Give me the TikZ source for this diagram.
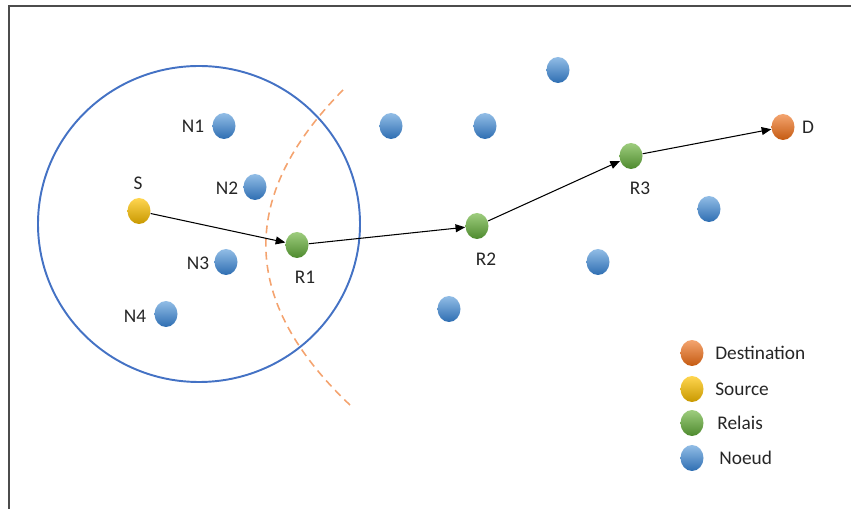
\documentclass[tikz,border=0pt]{standalone}
\usepackage{fontspec}
\setmainfont{Carlito}
\usetikzlibrary{arrows.meta,shapes.geometric}
\definecolor{nbluelt}{RGB}{146,189,230}
\definecolor{nbluedk}{RGB}{46,110,178}
\definecolor{rgreenlt}{RGB}{158,205,126}
\definecolor{rgreendk}{RGB}{78,138,46}
\definecolor{syellowlt}{RGB}{255,214,80}
\definecolor{syellowdk}{RGB}{200,152,0}
\definecolor{dorangelt}{RGB}{244,165,112}
\definecolor{dorangedk}{RGB}{197,90,17}
\definecolor{rangeblue}{RGB}{68,114,196}
\definecolor{zoneorange}{RGB}{244,163,111}
\definecolor{txtgray}{RGB}{38,38,38}

\begin{document}
\begin{tikzpicture}[x=0.02cm,y=-0.02cm,
  dot/.style={ellipse,minimum width=0.46cm,minimum height=0.52cm,inner sep=0pt},
  noeud/.style={dot,top color=nbluelt,bottom color=nbluedk},
  relais/.style={dot,top color=rgreenlt,bottom color=rgreendk},
  source/.style={dot,top color=syellowlt,bottom color=syellowdk},
  dest/.style={dot,top color=dorangelt,bottom color=dorangedk},
  lbl/.style={font=\fontsize{11}{13}\selectfont,text=txtgray,inner sep=0pt},
  arr/.style={-{Triangle[length=5.5pt,width=4.5pt]},line width=0.6pt,black},
  frame/.style={line width=1.2pt,black!70}
]
  \useasboundingbox (0,0) rectangle (851,509);
  \draw[frame] (9,509) -- (9,6) -- (851,6);

  \draw[rangeblue,line width=1.1pt] (199,224) ellipse [x radius=161,y radius=158];
  \draw[zoneorange,line width=0.9pt,dash pattern=on 4.5pt off 3pt]
    (343,90) .. controls (239,195) and (239,300) .. (350,405);

  \node[source] (s)  at (139,211) {};
  \node[noeud]  (n1) at (224,126) {};
  \node[noeud]  (n2) at (255,187) {};
  \node[noeud]  (n3) at (226,262) {};
  \node[noeud]  (n4) at (166,314) {};
  \node[relais] (r1) at (297,245) {};
  \node[relais] (r2) at (477,226) {};
  \node[relais] (r3) at (631,156) {};
  \node[dest]   (d)  at (783,127) {};
  \node[noeud]  (n5) at (391,126) {};
  \node[noeud]  (n6) at (485,126) {};
  \node[noeud]  (n7) at (558,70)  {};
  \node[noeud]  (n8) at (449,309) {};
  \node[noeud]  (n9) at (598,262) {};
  \node[noeud]  (n10) at (709,209) {};

  \node[lbl] (ls)  at (138,183) {S};
  \node[lbl] (ln1) at (193,126) {N1};
  \node[lbl] (ln2) at (227,188) {N2};
  \node[lbl] (ln3) at (198,263) {N3};
  \node[lbl] (ln4) at (135,316) {N4};
  \node[lbl] (lr1) at (305,277) {R1};
  \node[lbl] (lr2) at (486,259) {R2};
  \node[lbl] (lr3) at (640,188) {R3};
  \node[lbl] (ld)  at (808,127) {D};

  \draw[arr] (s) -- (r1);
  \draw[arr] (r1) -- (r2);
  \draw[arr] (r2) -- (r3);
  \draw[arr] (r3) -- (d);

  \node[dest]   (kd) at (692,353) {};
  \node[source] (ks) at (692,389) {};
  \node[relais] (kr) at (692,423) {};
  \node[noeud]  (kn) at (692,458) {};
  \node[lbl,anchor=west] (tkd) at (715,353) {Destination};
  \node[lbl,anchor=west] (tks) at (715,389) {Source};
  \node[lbl,anchor=west] (tkr) at (717,423) {Relais};
  \node[lbl,anchor=west] (tkn) at (719,458) {Noeud};
\end{tikzpicture}
\end{document}
